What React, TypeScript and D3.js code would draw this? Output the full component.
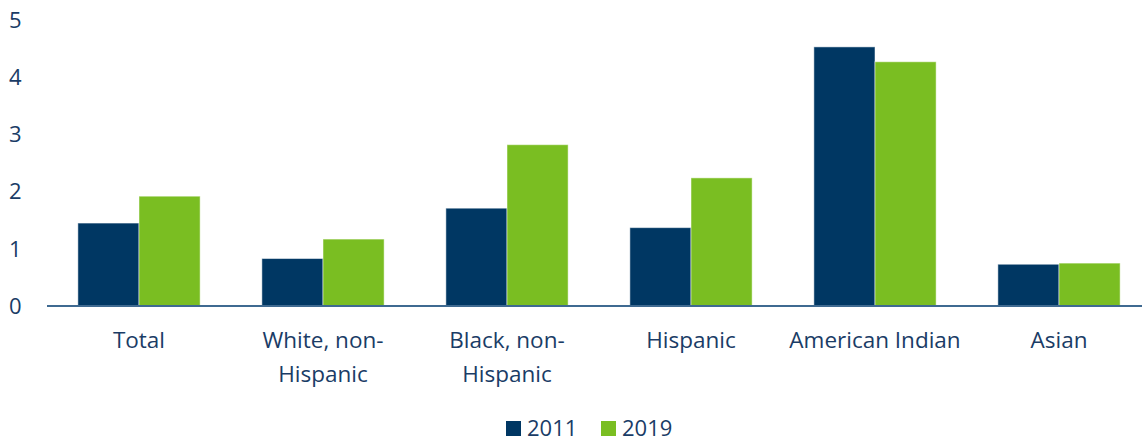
import React from "react";
import * as d3 from "d3";

const categories = [
  ["Total"],
  ["White, non-", "Hispanic"],
  ["Black, non-", "Hispanic"],
  ["Hispanic"],
  ["American Indian"],
  ["Asian"],
];
const series = ["2011", "2019"];
const values2011 = [1.45, 0.83, 1.71, 1.37, 4.53, 0.73];
const values2019 = [1.92, 1.17, 2.82, 2.24, 4.27, 0.75];
const yTicks = [0, 1, 2, 3, 4, 5];

const colors = ["#003763", "#7ABE22"];
const textColor = "#1A3C66";

export default function App() {
  const W = 1142;
  const H = 441;
  const x0 = d3
    .scaleBand<number>()
    .domain(categories.map((_, i) => i))
    .range([47, 1151])
    .paddingInner(0)
    .paddingOuter(0);
  const x1 = d3
    .scaleBand<number>()
    .domain([0, 1])
    .range([0, x0.bandwidth()])
    .paddingInner(0)
    .paddingOuter(0.505);
  const y = d3.scaleLinear().domain([0, 5]).range([306, 20]);
  const data = [values2011, values2019];
  const font = "'Open Sans', sans-serif";

  return (
    <svg
      width={W}
      height={H}
      style={{ position: "absolute", left: 0, top: 0 }}
      fontFamily={font}
    >
      <rect width={W} height={H} fill="#fff" />
      {yTicks.map((t) => (
        <text
          key={t}
          x={9}
          y={y(t)}
          dy="0.35em"
          fontSize={22}
          fill={textColor}
        >
          {t}
        </text>
      ))}
      {categories.map((_, ci) =>
        data.map((vals, si) => (
          <rect
            key={`${ci}-${si}`}
            x={(x0(ci) as number) + (x1(si) as number)}
            y={y(vals[ci])}
            width={x1.bandwidth()}
            height={y(0) - y(vals[ci])}
            fill={colors[si]}
            stroke="#ffffff"
            strokeOpacity={0.5}
            strokeWidth={1}
          />
        ))
      )}
      <line
        x1={47}
        x2={W}
        y1={y(0)}
        y2={y(0)}
        stroke="#3F6A91"
        strokeWidth={2}
      />
      {categories.map((lines, ci) => (
        <text
          key={ci}
          x={(x0(ci) as number) + x0.bandwidth() / 2}
          y={348}
          textAnchor="middle"
          fontSize={22.5}
          fill={textColor}
        >
          {lines.map((l, li) => (
            <tspan
              key={li}
              x={(x0(ci) as number) + x0.bandwidth() / 2}
              dy={li === 0 ? 0 : 34}
            >
              {l}
            </tspan>
          ))}
        </text>
      ))}
      {series.map((s, si) => (
        <g key={s} transform={`translate(${506 + si * 95},0)`}>
          <rect x={0} y={421} width={15} height={15} fill={colors[si]} />
          <text x={21} y={436} fontSize={22} fill={textColor}>
            {s}
          </text>
        </g>
      ))}
    </svg>
  );
}
